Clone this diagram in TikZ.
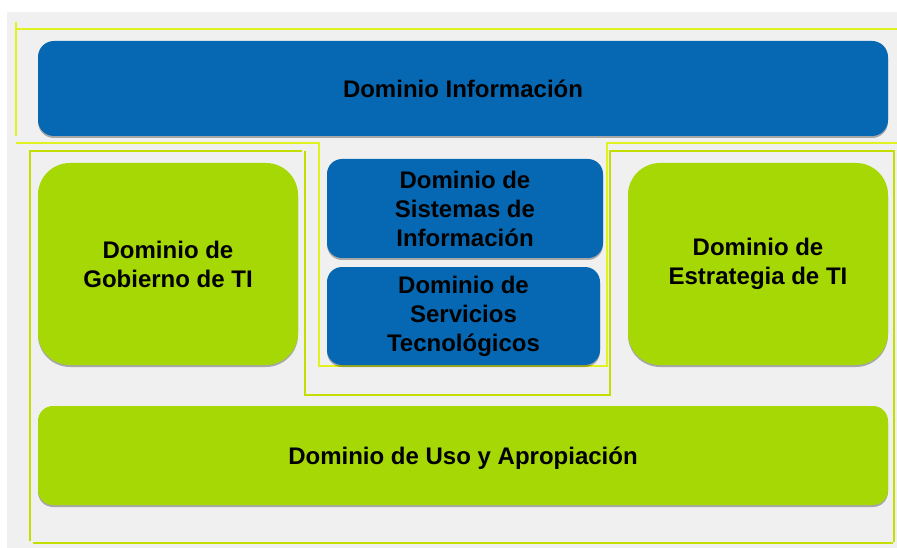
\documentclass[tikz,border=0pt]{standalone}
\usepackage{fontspec}
\setmainfont{Liberation Sans}
\usetikzlibrary{shadows}
\definecolor{domblue}{HTML}{0668B3}
\definecolor{domgreen}{HTML}{A6D805}
\definecolor{framebright}{HTML}{E0F220}
\definecolor{framegreen}{HTML}{C4DE00}
\definecolor{canvasgray}{HTML}{F0F0F0}
\tikzset{%
    dominio/.style={%
        rounded corners=#1, align=center, text=black, inner sep=0pt,
        font=\bfseries\fontsize{24}{29}\selectfont,
        drop shadow={shadow xshift=0pt, shadow yshift=-2pt,
                opacity=0.3, fill=black}
    },
    bluedom/.style={dominio=#1, fill=domblue},
    greendom/.style={dominio=#1, fill=domgreen},
    framea/.style={draw=framebright, line width=2.5pt},
    frameb/.style={draw=framegreen, line width=2.5pt}
}

\begin{document}
\begin{tikzpicture}[x=1pt, y=-1pt]
    \useasboundingbox (0,0) rectangle (897,548);
    \fill [canvasgray] (7,12) rectangle (897,548);

    \draw [framea] (16,22) -- (16,136);
    \draw [framea] (16,29) -- (897,29);
    \draw [framea] (16,143) -- (319,143) -- (319,366)
        -- (607,366) -- (607,143) -- (897,143);

    \draw [frameb] (29,151) -- (302,151);
    \draw [frameb] (30,151) -- (30,541);
    \draw [frameb] (33,543) -- (893,543);
    \draw [frameb] (305,151) -- (305,395) -- (610,395)
        -- (610,151) -- (894,151) -- (894,542);

    \node [bluedom=16pt, minimum width=850pt, minimum height=95pt]
        (info) at (463,88.5) {Dominio Información};
    \node [greendom=32pt, minimum width=260pt, minimum height=202pt]
        (gobierno) at (168,264) {Dominio de\\Gobierno de TI};
    \node [greendom=32pt, minimum width=260pt, minimum height=202pt]
        (estrategia) at (758,264) {Dominio de\\Estrategia de TI};
    \node [bluedom=15pt, minimum width=276pt, minimum height=99pt]
        (sistemas) at (465,208.5) {Dominio de\\Sistemas de\\Información};
    \node [bluedom=15pt, minimum width=273pt, minimum height=98pt]
        (servicios) at (463.5,316) {Dominio de\\Servicios\\Tecnológicos};
    \node [greendom=15pt, minimum width=850pt, minimum height=99pt,
        text depth=0pt]
        (uso) at (463,455.5) {Dominio de Uso y Apropiación};
\end{tikzpicture}
\end{document}
